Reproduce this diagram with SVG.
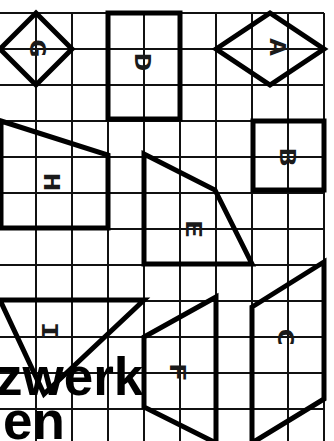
<svg xmlns="http://www.w3.org/2000/svg" width="334" height="441" viewBox="0 0 334 441">
<style>
.grid line{stroke:#111;stroke-width:2}
.shape{fill:none;stroke:#000;stroke-width:5;stroke-linejoin:miter}
.lbl{font-family:"DejaVu Sans Mono","Liberation Mono",monospace;font-weight:bold;font-size:22px;fill:#1a1a1a;text-anchor:middle;dominant-baseline:central}
.big{font-family:"Liberation Sans",Arial,sans-serif;font-weight:bold;font-size:53px;fill:#000}
</style>
<rect width="334" height="441" fill="#fff"/>
<g class="grid" id="grid">
<line x1="0" y1="13" x2="324" y2="13"/>
<line x1="0" y1="49" x2="324" y2="49"/>
<line x1="0" y1="85" x2="324" y2="85"/>
<line x1="0" y1="121" x2="324" y2="121"/>
<line x1="0" y1="157" x2="324" y2="157"/>
<line x1="0" y1="193" x2="324" y2="193"/>
<line x1="0" y1="229" x2="324" y2="229"/>
<line x1="0" y1="265" x2="324" y2="265"/>
<line x1="0" y1="301" x2="324" y2="301"/>
<line x1="0" y1="337" x2="324" y2="337"/>
<line x1="0" y1="373" x2="324" y2="373"/>
<line x1="0" y1="409" x2="324" y2="409"/>
<line x1="36" y1="13" x2="36" y2="441"/>
<line x1="72" y1="13" x2="72" y2="441"/>
<line x1="108" y1="13" x2="108" y2="441"/>
<line x1="144" y1="13" x2="144" y2="441"/>
<line x1="180" y1="13" x2="180" y2="441"/>
<line x1="216" y1="13" x2="216" y2="441"/>
<line x1="252" y1="13" x2="252" y2="441"/>
<line x1="288" y1="13" x2="288" y2="441"/>
<line x1="324" y1="13" x2="324" y2="441"/>
</g>
<g id="G"><polygon class="shape" points="36,13 72,49 36,85 0,49"/><text class="lbl" transform="translate(38 48) rotate(90) scale(1.4 1)">G</text></g>
<g id="D"><rect class="shape" x="108" y="13" width="72" height="106"/><text class="lbl" transform="translate(143 62) rotate(90) scale(1.4 1)">D</text></g>
<g id="A"><polygon class="shape" points="216,49 270,13 324,49 270,85"/><text class="lbl" transform="translate(278 47) rotate(90) scale(1.4 1)">A</text></g>
<g id="B"><rect class="shape" x="253" y="121" width="71" height="69"/><text class="lbl" transform="translate(288 157) rotate(90) scale(1.4 1)">B</text></g>
<g id="H"><polygon class="shape" points="1,121 108,155 108,228 1,228"/><text class="lbl" transform="translate(52 182) rotate(90) scale(1.4 1)">H</text></g>
<g id="E"><polygon class="shape" points="144,154 215,190 252,264 144,264"/><text class="lbl" transform="translate(194 229) rotate(90) scale(1.4 1)">E</text></g>
<g id="C"><polygon class="shape" points="252,307 324,262 324,399 252,443"/><text class="lbl" transform="translate(286 337) rotate(90) scale(1.4 1)">C</text></g>
<g id="F"><polygon class="shape" points="216,297 144,337 144,407 216,443"/><text class="lbl" transform="translate(178 372) rotate(90) scale(1.4 1)">F</text></g>
<g id="I"><polygon class="shape" points="0,300 144,300 44,394"/><text class="lbl" transform="translate(50 331) rotate(90) scale(1.4 1)">I</text></g>
<g id="title">
<text class="big" x="-4" y="395">zwerk</text>
<text class="big" x="3" y="439">en</text>
</g>
</svg>
